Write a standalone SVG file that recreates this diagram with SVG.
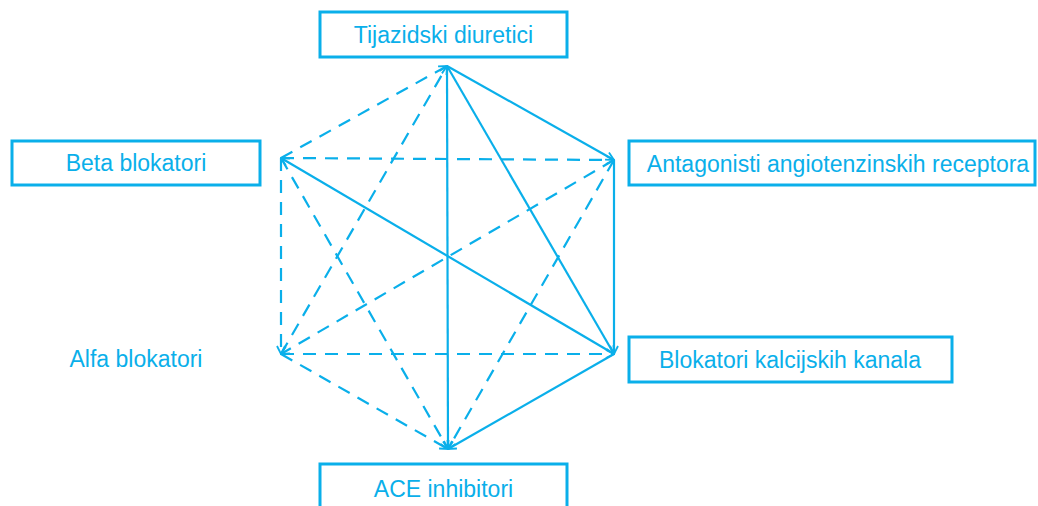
<svg xmlns="http://www.w3.org/2000/svg" width="1038" height="506" viewBox="0 0 1038 506">
<defs>
<style>
.box{fill:#fff;stroke:#0AAFEA;stroke-width:3}
.t{font-family:"Liberation Sans",Arial,sans-serif;font-size:23px;fill:#0AAFEA;text-anchor:middle}
.s{stroke:#0AAFEA;stroke-width:2.2;fill:none}
.d{stroke:#0AAFEA;stroke-width:2.2;fill:none;stroke-dasharray:13 9}
</style>
<marker id="ar" viewBox="0 0 10 10" refX="9" refY="5" markerWidth="10" markerHeight="10" markerUnits="userSpaceOnUse" orient="auto">
<path d="M1,1 L9,5 L1,9" fill="none" stroke="#0AAFEA" stroke-width="1.8"/>
</marker>
</defs>
<rect width="1038" height="506" fill="#fff"/>
<g id="connectors">
<line class="s" x1="447" y1="66" x2="448" y2="449" marker-end="url(#ar)"/>
<line class="s" x1="447" y1="66" x2="614" y2="354" marker-end="url(#ar)"/>
<line class="s" x1="447" y1="66" x2="614" y2="160" marker-end="url(#ar)"/>
<line class="s" x1="614" y1="354" x2="281" y2="158" marker-end="url(#ar)"/>
<line class="s" x1="614" y1="354" x2="448" y2="449" marker-end="url(#ar)"/>
<line class="s" x1="614" y1="160" x2="614" y2="354" marker-end="url(#ar)"/>
<line class="d" x1="281" y1="158" x2="447" y2="66" marker-end="url(#ar)"/>
<line class="d" x1="281" y1="354" x2="447" y2="66" marker-end="url(#ar)"/>
<line class="d" x1="281" y1="158" x2="614" y2="160" marker-end="url(#ar)"/>
<line class="d" x1="281" y1="158" x2="281" y2="354" marker-end="url(#ar)"/>
<line class="d" x1="281" y1="158" x2="448" y2="449" marker-end="url(#ar)"/>
<line class="d" x1="614" y1="160" x2="281" y2="354" marker-end="url(#ar)"/>
<line class="d" x1="614" y1="160" x2="448" y2="449" marker-end="url(#ar)"/>
<line class="d" x1="281" y1="354" x2="614" y2="354" marker-end="url(#ar)"/>
<line class="d" x1="281" y1="354" x2="448" y2="449" marker-end="url(#ar)"/>
</g>
<g id="tijazidski">
<rect class="box" x="320" y="12" width="247" height="45"/>
<text class="t" x="443.5" y="43">Tijazidski diuretici</text>
</g>
<g id="beta">
<rect class="box" x="12" y="141" width="248" height="44"/>
<text class="t" x="136" y="171">Beta blokatori</text>
</g>
<g id="antagonisti">
<rect class="box" x="629" y="141" width="406" height="44"/>
<text class="t" x="838" y="172">Antagonisti angiotenzinskih receptora</text>
</g>
<g id="alfa">
<text class="t" x="136" y="367">Alfa blokatori</text>
</g>
<g id="kalcij">
<rect class="box" x="629" y="337" width="323" height="45"/>
<text class="t" x="790" y="368">Blokatori kalcijskih kanala</text>
</g>
<g id="ace">
<rect class="box" x="320" y="464" width="247" height="50"/>
<text class="t" x="443.5" y="497">ACE inhibitori</text>
</g>
</svg>
